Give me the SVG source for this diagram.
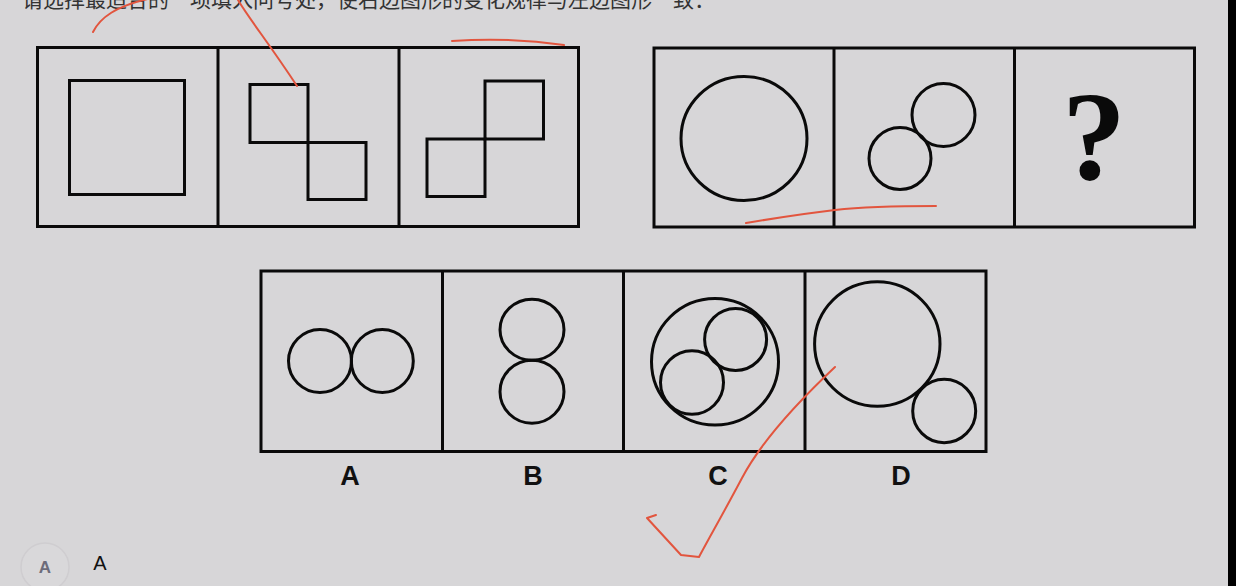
<svg xmlns="http://www.w3.org/2000/svg" width="1236" height="586" viewBox="0 0 1236 586">
<style>
.frame{fill:none;stroke:#0a0a0a;stroke-width:3}
.shape{fill:none;stroke:#0a0a0a;stroke-width:3}
.ink{fill:none;stroke:#e2553e;stroke-width:2;stroke-linecap:round;stroke-linejoin:round}
.lab{font-family:"Liberation Sans",Arial,sans-serif;font-weight:bold;font-size:27px;fill:#111;text-anchor:middle}
</style>
<rect width="1236" height="586" fill="#d7d6d8"/>
<rect x="1228" y="0" width="8" height="586" fill="#000"/>
<text x="22" y="7" font-family="'Noto Sans CJK SC',sans-serif" font-size="21" fill="#333">请选择最适合的一项填入问号处，使右边图形的变化规律与左边图形一致：</text>

<g id="row-left">
<rect class="frame" x="37.5" y="47.5" width="541" height="179"/>
<line class="frame" x1="218" y1="47" x2="218" y2="227"/>
<line class="frame" x1="399" y1="47" x2="399" y2="227"/>
<rect class="shape" x="69.5" y="80.5" width="115" height="114"/>
<rect class="shape" x="250" y="84.5" width="58" height="58"/>
<rect class="shape" x="308" y="142.5" width="58" height="57"/>
<rect class="shape" x="485" y="81" width="58.5" height="58"/>
<rect class="shape" x="427" y="139" width="58" height="57.5"/>
</g>

<g id="row-right">
<rect class="frame" x="654" y="48" width="540.5" height="179"/>
<line class="frame" x1="834" y1="48" x2="834" y2="227"/>
<line class="frame" x1="1014.5" y1="48" x2="1014.5" y2="227"/>
<ellipse class="shape" cx="744" cy="138.5" rx="63" ry="62"/>
<circle class="shape" cx="943.5" cy="115" r="31.5"/>
<circle class="shape" cx="900" cy="158.5" r="31"/>
<text x="1094" y="179" font-family="'Liberation Serif','Times New Roman',serif" font-size="128" font-weight="bold" fill="#0a0a0a" text-anchor="middle">?</text>
</g>

<g id="options">
<rect class="frame" x="261" y="271" width="725" height="180.5"/>
<line class="frame" x1="442.5" y1="271" x2="442.5" y2="451"/>
<line class="frame" x1="623.5" y1="271" x2="623.5" y2="451"/>
<line class="frame" x1="805" y1="271" x2="805" y2="451"/>
</g>
<g id="option-a">
<ellipse class="shape" cx="320" cy="361" rx="31.5" ry="31.5"/>
<ellipse class="shape" cx="382.3" cy="361" rx="31" ry="31.5"/>
<text class="lab" x="350" y="485">A</text>
</g>
<g id="option-b">
<ellipse class="shape" cx="532" cy="329.7" rx="32" ry="30.5"/>
<ellipse class="shape" cx="532" cy="391.7" rx="32" ry="31.5"/>
<text class="lab" x="533" y="485">B</text>
</g>
<g id="option-c">
<ellipse class="shape" cx="715" cy="361.7" rx="63.5" ry="63.3"/>
<circle class="shape" cx="735.6" cy="339.5" r="31"/>
<ellipse class="shape" cx="692" cy="382.5" rx="31.5" ry="31.8"/>
<text class="lab" x="718" y="485">C</text>
</g>
<g id="option-d">
<ellipse class="shape" cx="877.3" cy="344" rx="62.7" ry="62.3"/>
<ellipse class="shape" cx="944.2" cy="411" rx="31.5" ry="31.7"/>
<text class="lab" x="901" y="485">D</text>
</g>

<g id="answer">
<circle cx="45" cy="567" r="24" fill="#d9d8da" stroke="#cfcdd0" stroke-width="1.5"/>
<text x="45" y="573" font-family="'Liberation Sans',Arial,sans-serif" font-size="17" font-weight="bold" fill="#6d6c7a" text-anchor="middle">A</text>
<text x="100" y="570" font-family="'Liberation Sans',Arial,sans-serif" font-size="20" fill="#111" text-anchor="middle">A</text>
</g>

<g id="connectors">
<path class="ink" d="M93 32 C 100 18, 115 6, 152 -2"/>
<path class="ink" d="M238 0 C 250 20, 268 42, 297 86"/>
<path class="ink" d="M452 41 Q 510 37 564 45"/>
<path class="ink" d="M746 223 Q 800 214 835 210 Q 870 206 936 206"/>
<path class="ink" d="M835 367 C 800 400, 762 440, 742 478 C 724 512, 708 540, 699 557 L 681 555 L 647 518 L 656 515"/>
</g>
</svg>
